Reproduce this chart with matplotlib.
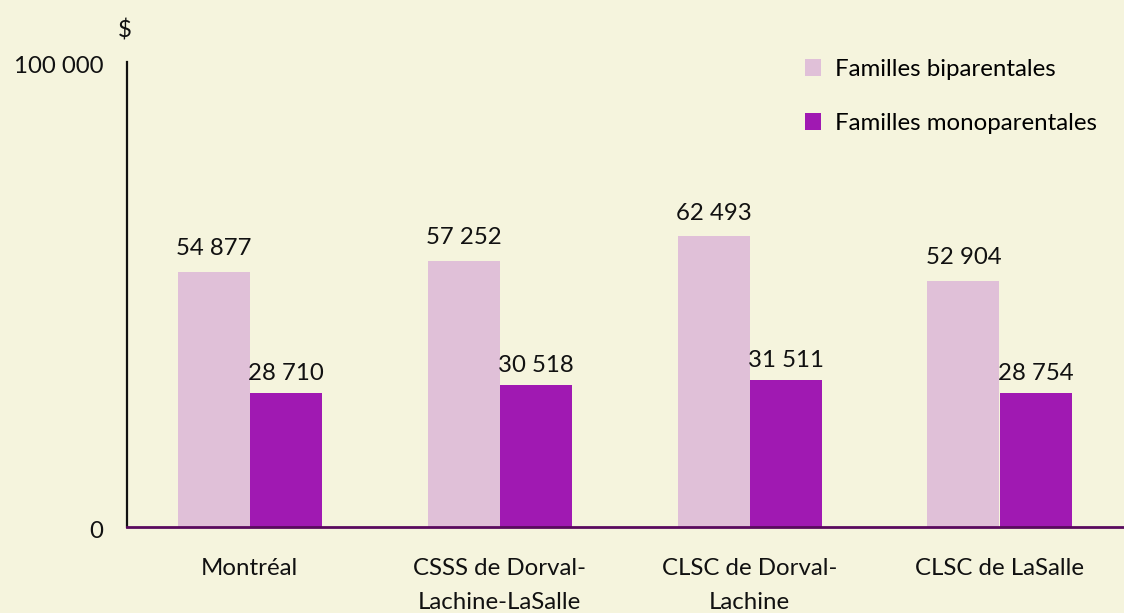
import matplotlib
matplotlib.use("Agg")
import matplotlib.pyplot as plt
import matplotlib.transforms as mtransforms
import numpy as np
from matplotlib.patches import Patch

categories = ["Montréal", "CSSS de Dorval-\nLachine-LaSalle", "CLSC de Dorval-\nLachine", "CLSC de LaSalle"]
biparentales = [54877, 57252, 62493, 52904]
monoparentales = [28710, 30518, 31511, 28754]
series_names = ["Familles biparentales", "Familles monoparentales"]

bg = "#F5F4DD"
c_light = "#E0C0D8"
c_dark = "#A019B2"
fs = 17.3

plt.rcParams['font.family'] = ['Lato', 'DejaVu Sans']
fig = plt.figure(figsize=(11.24, 6.13), dpi=100, facecolor=bg)
W, H = 1124, 613
ax = fig.add_axes([127 / W, 1 - 527 / H, (1124 - 127) / W, (527 - 62) / H])
ax.set_facecolor(bg)

x = np.arange(len(categories))
bw = 0.288
b1 = ax.bar(x - bw / 2, biparentales, bw, color=c_light, label=series_names[0])
b2 = ax.bar(x + bw / 2, monoparentales, bw, color=c_dark, label=series_names[1])

def fmt(v):
    return f"{v:,}".replace(",", " ")

for rect, v in zip(b1, biparentales):
    ax.annotate(fmt(v), (rect.get_x() + rect.get_width() / 2, v), xytext=(0, 9),
                textcoords="offset points", ha="center", va="bottom", fontsize=fs, color="#111111")
for rect, v in zip(b2, monoparentales):
    ax.annotate(fmt(v), (rect.get_x() + rect.get_width() / 2, v), xytext=(0, 6.5),
                textcoords="offset points", ha="center", va="bottom", fontsize=fs, color="#111111")

ax.set_xlim(-0.49, 3.498)
ax.set_ylim(0, 100000)
ax.set_yticks([0, 100000])
ax.set_yticklabels(["0", "100 000"], fontsize=fs, color="#111111")
ax.set_xticks(x)
ax.set_xticklabels(categories, fontsize=fs, color="#111111", linespacing=1.8)
ax.tick_params(axis="both", length=0)
ax.tick_params(axis="y", pad=17)
ax.tick_params(axis="x", pad=22)
offset = mtransforms.ScaledTranslation(0, -3 / 100, fig.dpi_scale_trans)
for lbl in ax.get_yticklabels():
    lbl.set_transform(lbl.get_transform() + offset)
for s in ["top", "right"]:
    ax.spines[s].set_visible(False)
ax.spines["left"].set_color("#111111")
ax.spines["left"].set_linewidth(1.6)
ax.spines["bottom"].set_color("#5A0A5E")
ax.spines["bottom"].set_linewidth(2)

fig.text(125 / W, 1 - 30 / H, "$", fontsize=fs, ha="center", va="center", color="#111111")

handles = [Patch(facecolor=c_light), Patch(facecolor=c_dark)]
leg = fig.legend(handles, series_names, loc="upper left", bbox_to_anchor=(783 / W, 1 - 37 / H),
                 frameon=False, fontsize=fs, handlelength=0.7, handleheight=0.7,
                 handletextpad=0.55, labelspacing=1.38)

fig.savefig("out.png", dpi=100, facecolor=bg)
